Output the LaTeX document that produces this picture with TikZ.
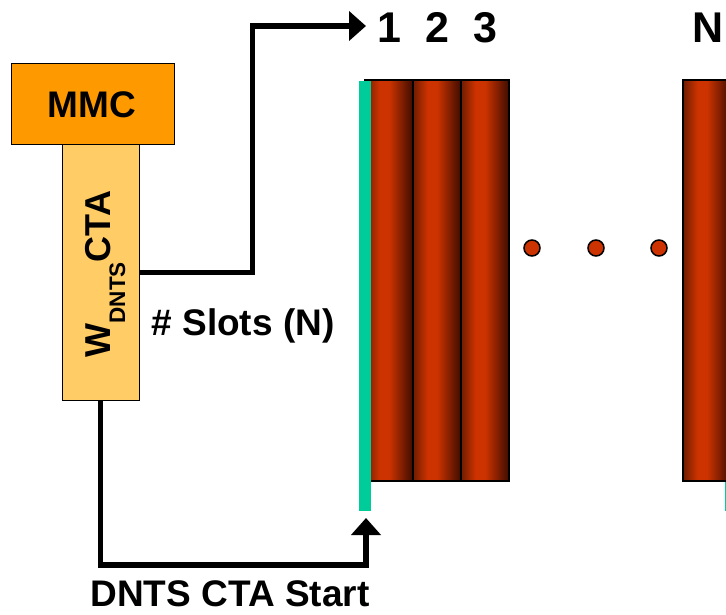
\documentclass[tikz,border=0pt]{standalone}
\usepackage{fontspec}
\setmainfont{Liberation Sans}
\usetikzlibrary{arrows.meta}
\definecolor{mmcorange}{HTML}{FF9900}
\definecolor{ctayellow}{HTML}{FFCC66}
\definecolor{slotgreen}{HTML}{00CC99}
\definecolor{slotred}{HTML}{CC3300}
\definecolor{slotdkL}{HTML}{6E1C00}
\definecolor{slotdkR}{HTML}{3E0C00}
\pgfdeclarehorizontalshading{slotshade}{100bp}{color(0bp)=(slotdkL); color(25bp)=(slotdkL); color(40bp)=(slotred); color(50bp)=(slotred); color(75bp)=(slotdkR); color(100bp)=(slotdkR)}
\tikzset{
  lbl/.style={font=\fontsize{37}{40}\selectfont\bfseries, inner sep=0pt},
  numlbl/.style={font=\fontsize{43}{46}\selectfont\bfseries, inner sep=0pt, anchor=base},
  boxmmc/.style={draw=black, line width=1pt, fill=mmcorange, minimum width=163pt, minimum height=81pt, inner sep=0pt},
  boxcta/.style={draw=black, line width=1pt, fill=ctayellow, minimum width=77pt, minimum height=255pt, inner sep=0pt},
  slotbox/.style={draw=black, line width=2pt, shading=slotshade, minimum width=48pt, minimum height=401pt, inner sep=0pt},
  dotc/.style={circle, draw=black, line width=1.5pt, fill=slotred, minimum size=16pt, inner sep=0pt},
  conn/.style={line width=5.5pt, -{Triangle[length=17pt,width=29pt]}},
}
\begin{document}
\begin{tikzpicture}[x=1pt,y=-1pt]
\useasboundingbox (0,0) rectangle (726,615);
\clip (0,0) rectangle (726,615);
% boxes
\node[boxmmc] (mmc) at (92.5,104.5) {};
\node[lbl, anchor=base] (mmclbl) at (92,118) {MMC};
\node[boxcta] (cta) at (100.5,272.5) {};
\node[lbl, anchor=base, rotate=90, font=\fontsize{36}{40}\selectfont\bfseries] (ctalbl) at (110,274) {W\raisebox{-15pt}{\fontsize{22.5}{24}\selectfont DNTS}CTA};
% slots
\fill[slotgreen] (724.5,81) rectangle (740,511);
\node[slotbox] (s1) at (389,280.5) {};
\node[slotbox] (s2) at (437,280.5) {};
\node[slotbox] (s3) at (485,280.5) {};
\node[slotbox] (sN) at (707,280.5) {};
\fill[slotgreen] (359,81) rectangle (371,511);
% dots
\node[dotc] (d1) at (532,248) {};
\node[dotc] (d2) at (596,248) {};
\node[dotc] (d3) at (659,248) {};
% labels
\node[numlbl] (n1) at (389,43) {1};
\node[numlbl] (n2) at (437,43) {2};
\node[numlbl] (n3) at (485,43) {3};
\node[numlbl] (nN) at (708,43) {N};
\node[lbl, anchor=base] (slotslbl) at (243,335) {\# Slots (N)};
\node[lbl, anchor=base] (startlbl) at (230,606) {DNTS CTA Start};
% connectors
\coordinate (topend) at (366,26);
\coordinate (botend) at (366,518);
\draw[conn] (cta.east) -- (252.5,272.5) |- (topend);
\draw[conn] (cta.south) |- (366,565) -- (botend);
\end{tikzpicture}
\end{document}
